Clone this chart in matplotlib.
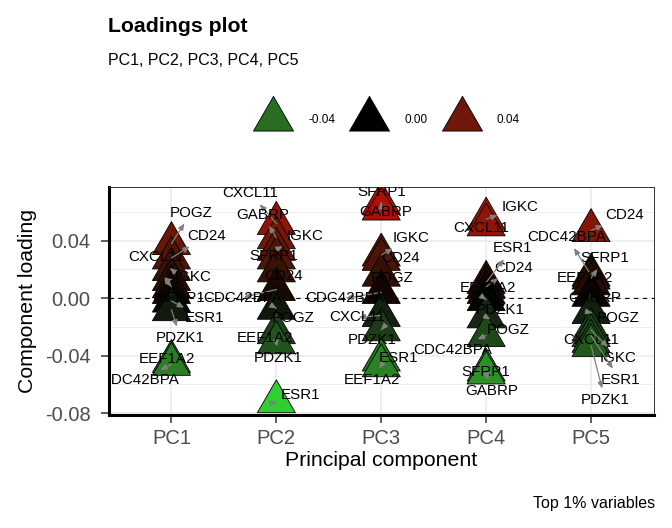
import numpy as np
import matplotlib
matplotlib.use("Agg")
import matplotlib.pyplot as plt
from matplotlib.lines import Line2D
from matplotlib.ticker import FixedLocator

plt.rcParams["font.family"] = ["Liberation Sans", "DejaVu Sans"]
plt.rcParams["axes.unicode_minus"] = False

# --- data ------------------------------------------------------------------
genes = ["CXCL11", "POGZ", "CD24", "IGKC", "SFRP1",
         "CDC42BPA", "ESR1", "PDZK1", "EEF1A2", "GABRP"]
components = ["PC1", "PC2", "PC3", "PC4", "PC5"]

pc1 = [0.020, 0.038, 0.028, 0.013, 0.008, -0.046, -0.002, -0.008, -0.044, 0.004]
pc2 = [0.052, -0.007, 0.019, 0.034, 0.028, 0.006, -0.072, -0.031, -0.024, 0.042]
pc3 = [-0.012, 0.016, 0.027, 0.030, 0.066, 0.004, -0.043, -0.022, -0.047, 0.062]
pc4 = [0.051, -0.013, 0.008, 0.055, -0.050, -0.026, 0.011, -0.001, 0.004, -0.052]
pc5 = [-0.030, -0.010, 0.047, -0.022, 0.014, 0.016, -0.026, -0.033, 0.010, 0.002]
loadings = [pc1, pc2, pc3, pc4, pc5]

legend_values = [-0.04, 0.00, 0.04]
y_ticks = [-0.08, -0.04, 0.00, 0.04]

# label nudges in pixels (x right, y up), like ggrepel's final placement;
# a gene missing here had its label dropped (too many overlaps)
label_nudge = {
    "PC1": {"POGZ": (20, 31), "CD24": (35, 22), "CXCL11": (-15, 12), "IGKC": (22, 3),
            "SFRP1": (9, -11), "ESR1": (33, -17), "PDZK1": (9, -28),
            "EEF1A2": (-5, 2), "CDC42BPA": (-32, -16)},
    "PC2": {"CXCL11": (-26, 30), "GABRP": (-14, 23), "IGKC": (29, 13), "SFRP1": (-3, 2),
            "CD24": (7, -5), "CDC42BPA": (-34, -8), "POGZ": (17, -10), "EEF1A2": (-11, -5),
            "PDZK1": (2, -15), "ESR1": (24, 7)},
    "PC3": {"SFRP1": (0, 11), "GABRP": (4, -3), "IGKC": (30, 17), "CD24": (19, 1),
            "POGZ": (11, -3), "CDC42BPA": (-37, -6), "CXCL11": (-24, -2), "PDZK1": (-9, -10),
            "ESR1": (17, 2), "EEF1A2": (-9, -14)},
    "PC4": {"IGKC": (34, 12), "CXCL11": (-5, -3), "ESR1": (26, 34), "CD24": (27, 19),
            "EEF1A2": (2, 4), "PDZK1": (14, -10), "POGZ": (22, -13), "CDC42BPA": (-33, -14),
            "SFRP1": (0, -2), "GABRP": (6, -18)},
    "PC5": {"CD24": (34, 16), "CDC42BPA": (-24, 38), "SFRP1": (14, 20), "EEF1A2": (-6, 6),
            "GABRP": (4, -3), "POGZ": (27, -5), "CXCL11": (0, 1), "IGKC": (27, -28),
            "ESR1": (29, -44), "PDZK1": (14, -54)},
}


# --- colour scale: limegreen / black / red3, interpolated in Lab ------------
WHITE = np.array([0.95047, 1.0, 1.08883])
M = np.array([[0.4124564, 0.3575761, 0.1804375],
              [0.2126729, 0.7151522, 0.0721750],
              [0.0193339, 0.1191920, 0.9503041]])


def srgb_to_lab(rgb):
    c = np.asarray(rgb, float)
    lin = np.where(c <= 0.04045, c / 12.92, ((c + 0.055) / 1.055) ** 2.4)
    t = (M @ lin) / WHITE
    d = 6 / 29
    f = np.where(t > d ** 3, np.cbrt(t), t / (3 * d * d) + 4 / 29)
    return np.array([116 * f[1] - 16, 500 * (f[0] - f[1]), 200 * (f[1] - f[2])])


def lab_to_srgb(lab):
    L, a, b = lab
    fy = (L + 16) / 116
    f = np.array([fy + a / 500, fy, fy - b / 200])
    d = 6 / 29
    t = np.where(f > d, f ** 3, 3 * d * d * (f - 4 / 29))
    lin = np.clip(np.linalg.solve(M, t * WHITE), 0, 1)
    c = np.where(lin <= 0.0031308, 12.92 * lin, 1.055 * lin ** (1 / 2.4) - 0.055)
    return tuple(np.clip(c, 0, 1))


LAB_LOW = srgb_to_lab(np.array([50, 205, 50]) / 255)   # limegreen
LAB_HIGH = srgb_to_lab(np.array([205, 0, 0]) / 255)    # red3
vmax = max(abs(v) for pc in loadings for v in pc)


def colour(v):
    t = v / vmax
    return lab_to_srgb(LAB_LOW * -t if t < 0 else LAB_HIGH * t)


# triangle marker with its centroid on the data point (like R pch 24)
tri = [(0, 1), (-0.866, -0.5), (0.866, -0.5), (0, 1)]

fig = plt.figure(figsize=(6.72, 5.28), dpi=100)
ax = fig.add_axes([108.5 / 672, 1 - 414.5 / 528, (654 - 108.5) / 672, (414.5 - 187) / 528])

for i, (pc, vals) in enumerate(zip(components, loadings)):
    order = np.argsort(vals)[::-1]          # highest first, lower ones on top
    xs = np.full(len(order), i + 1.0)
    ys = np.array(vals)[order]
    ax.scatter(xs, ys, s=1000, marker=tri, c=[colour(v) for v in ys],
               edgecolors="black", linewidths=0.6, zorder=3)

    for g, v in zip(genes, vals):
        if g not in label_nudge[pc]:
            continue
        dx, dy = label_nudge[pc][g]
        arrow = None
        if abs(dy) > 8 or abs(dx) > 20:
            arrow = dict(arrowstyle="<|-,head_length=0.35,head_width=0.15",
                         color="#808080", lw=0.9, shrinkA=1, shrinkB=0)
        ax.annotate(g, xy=(i + 1, v), xytext=(dx, dy), textcoords="offset pixels",
                    ha="center", va="center", fontsize=10.9, color="black",
                    arrowprops=arrow, clip_on=True, zorder=5)

ax.axhline(0, color="black", ls=(0, (4, 4)), lw=0.8, zorder=2)

ax.set_xlim(0.4, 5.6)
ax.set_ylim((298.2 - 414.5) / 1438, (298.2 - 187) / 1438)
ax.set_xticks(range(1, 6))
ax.set_xticklabels(components)
ax.set_yticks(y_ticks)
ax.set_yticklabels([f"{t:.2f}" for t in y_ticks])
ax.yaxis.set_minor_locator(FixedLocator([-0.06, -0.02, 0.02, 0.06]))

ax.set_axisbelow(True)
ax.grid(which="major", color="#EBEBEB", lw=1.1)
ax.grid(which="minor", axis="y", color="#EBEBEB", lw=0.6)
ax.tick_params(which="minor", length=0)
ax.tick_params(axis="both", which="major", length=5.5, width=1.1, color="#333333",
               labelsize=14.5, labelcolor="#4D4D4D")
ax.tick_params(axis="x", pad=5)
ax.tick_params(axis="y", pad=7.5)

for side in ["left", "bottom"]:
    ax.spines[side].set_linewidth(2.2)
    ax.spines[side].set_color("black")
for side in ["top", "right"]:
    ax.spines[side].set_linewidth(0.7)
    ax.spines[side].set_color("#333333")

ax.set_xlabel("Principal component", fontsize=15.3, labelpad=2)
ax.set_ylabel("Component loading", fontsize=15.3, labelpad=5.4)

fig.text(108 / 672, 1 - 31.7 / 528, "Loadings plot", fontsize=15.3,
         fontweight="bold", ha="left", va="baseline")
fig.text(108 / 672, 1 - 65 / 528, "PC1, PC2, PC3, PC4, PC5", fontsize=11.5,
         ha="left", va="baseline")
fig.text(655 / 672, 1 - 508.3 / 528, "Top 1% variables", fontsize=11.5,
         ha="right", va="baseline")

handles = [Line2D([], [], ls="None", marker=tri, markersize=33.3,
                  markerfacecolor=colour(v), markeredgecolor="black",
                  markeredgewidth=0.6) for v in legend_values]
fig.legend(handles, [f"{v:.2f}" for v in legend_values], loc="center left",
           bbox_to_anchor=(255.3 / 672, 1 - 119.7 / 528), ncol=3, frameon=False,
           fontsize=8.5, handlelength=3, handletextpad=1.47, columnspacing=1.4,
           borderpad=0, borderaxespad=0)

fig.savefig("out.png", dpi=100)
